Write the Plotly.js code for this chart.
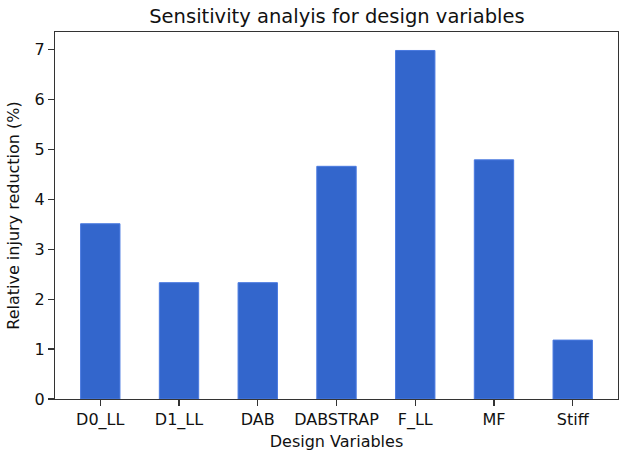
<!DOCTYPE html>
<html>
<head>
<meta charset="utf-8">
<script src="https://cdn.plot.ly/plotly-3.0.1.min.js"></script>
<style>html,body{margin:0;padding:0;background:#fff;}#chart{width:624px;height:459px;}</style>
</head>
<body>
<div id="chart"></div>
<script>
const categories = ["D0_LL", "D1_LL", "DAB", "DABSTRAP", "F_LL", "MF", "Stiff"];
const reductionValues = [3.51, 2.33, 2.33, 4.66, 6.98, 4.79, 1.18];
const yTickValues = [0, 1, 2, 3, 4, 5, 6, 7];

const font = "DejaVu Sans, sans-serif";
const positions = categories.map((c, i) => i);

Plotly.newPlot("chart", [{
  type: "bar",
  x: positions,
  y: reductionValues,
  width: 0.5,
  marker: {color: "#3366cc", line: {color: "#4a7ae0", width: 1}},
  hoverinfo: "skip"
}], {
  width: 624,
  height: 459,
  margin: {l: 55, r: 6, t: 32, b: 60, pad: 0},
  paper_bgcolor: "#ffffff",
  plot_bgcolor: "#ffffff",
  font: {family: font, color: "#000000", size: 16},
  showlegend: false,
  title: {text: "Sensitivity analyis for design variables", font: {family: font, size: 19.5, color: "#111"}, x: 0.54, xanchor: "center", y: 0.965, yanchor: "middle"},
  xaxis: {
    range: [-0.575, 6.575],
    tickmode: "array",
    tickvals: positions,
    ticktext: categories,
    ticks: "outside", ticklen: 6, tickwidth: 1.2, tickcolor: "#333",
    showline: true, linecolor: "#333", linewidth: 1.2, mirror: true,
    showgrid: false, zeroline: false,
    tickfont: {family: font, size: 16, color: "#111"},
    title: {text: "Design Variables", font: {family: font, size: 16, color: "#111"}, standoff: 6}
  },
  yaxis: {
    range: [0, 7.35],
    tickmode: "array",
    tickvals: yTickValues,
    ticktext: yTickValues.map(String),
    ticks: "outside", ticklen: 6, tickwidth: 1.2, tickcolor: "#333",
    showline: true, linecolor: "#333", linewidth: 1.2, mirror: true,
    showgrid: false, zeroline: false,
    tickfont: {family: font, size: 16, color: "#111"},
    title: {text: "Relative injury reduction (%)", font: {family: font, size: 16, color: "#111"}, standoff: 10}
  }
}, {displayModeBar: false, staticPlot: true});
</script>
</body>
</html>
